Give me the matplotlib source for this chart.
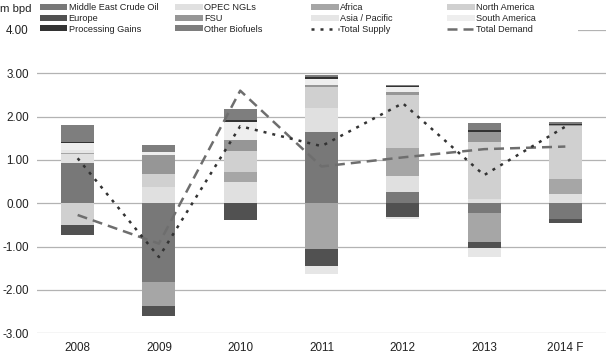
"""Annual change in world oil supply by region vs. total demand"""

import numpy as np
import matplotlib
matplotlib.use('Agg')
import matplotlib.pyplot as plt
from matplotlib.patches import Patch, Rectangle
from matplotlib.lines import Line2D

plt.rcParams['font.family'] = ['Liberation Sans', 'DejaVu Sans']

years = ['2008', '2009', '2010', '2011', '2012', '2013', '2014 F']
ytick_values = [-3, -2, -1, 0, 1, 2, 3, 4]
ytick_labels = ['-3.00', '-2.00', '-1.00', '0.00', '1.00', '2.00', '3.00', '4.00']

# year-on-year change, m bpd
me_crude = [0.92, -1.82, 0.00, 1.65, 0.27, -0.23, -0.36]
opec_ngls = [0.21, 0.38, 0.49, 0.54, 0.36, 0.11, 0.21]
africa = [0.02, -0.54, 0.23, -1.06, 0.64, -0.66, 0.34]
north_america = [-0.50, 0.29, 0.49, 0.50, 1.24, 1.31, 1.23]
europe = [-0.23, -0.25, -0.38, -0.39, -0.31, -0.15, -0.10]
fsu = [0.00, 0.44, 0.25, 0.04, 0.05, 0.23, 0.03]
asia_pacific = [0.09, 0.00, 0.00, -0.17, -0.06, -0.19, 0.00]
south_america = [0.15, 0.07, 0.41, 0.15, 0.12, 0.00, 0.00]
processing_gains = [0.03, 0.00, 0.05, 0.04, 0.02, 0.05, 0.03]
other_biofuels = [0.38, 0.16, 0.25, 0.04, 0.03, 0.15, 0.04]

total_supply = [1.04, -1.24, 1.78, 1.32, 2.31, 0.65, 1.77]
total_demand = [-0.27, -0.93, 2.60, 0.85, 1.06, 1.25, 1.31]

series = [
    ('Middle East Crude Oil', me_crude),
    ('OPEC NGLs', opec_ngls),
    ('Africa', africa),
    ('North America', north_america),
    ('Europe', europe),
    ('FSU', fsu),
    ('Asia / Pacific', asia_pacific),
    ('South America', south_america),
    ('Processing Gains', processing_gains),
    ('Other Biofuels', other_biofuels),
]
colors = {
    'Middle East Crude Oil': '#787878',
    'OPEC NGLs': '#e0e0e0',
    'Africa': '#a6a6a6',
    'North America': '#d0d0d0',
    'Europe': '#515151',
    'FSU': '#969696',
    'Asia / Pacific': '#e6e6e6',
    'South America': '#eeeeee',
    'Processing Gains': '#333333',
    'Other Biofuels': '#7e7e7e',
}

W, H = 606, 359
fig = plt.figure(figsize=(W / 100, H / 100), dpi=100)
ax = fig.add_axes([37 / W, 25.7 / H, 569 / W, 303.3 / H])

x = np.arange(len(years))
pos = np.zeros(len(years))
neg = np.zeros(len(years))
handles = []
for name, vals in series:
    v = np.array(vals, dtype=float)
    bottom = np.where(v >= 0, pos, neg)
    ax.bar(x, v, bottom=bottom, width=0.405, color=colors[name], linewidth=0, zorder=2)
    pos += np.clip(v, 0, None)
    neg += np.clip(v, None, 0)
    handles.append(Patch(facecolor=colors[name], label=name))

supply_ls = (0, (1.2, 2.4))
demand_ls = (0, (4, 2.4))
ax.plot(x, total_supply, color='#333333', lw=1.8, ls=supply_ls, zorder=4)
ax.plot(x, total_demand, color='#6e6e6e', lw=1.8, ls=demand_ls, zorder=3)
handles.append(Line2D([], [], color='#333333', lw=1.8, ls=supply_ls, label='Total Supply'))
handles.append(Line2D([], [], color='#6e6e6e', lw=1.8, ls=demand_ls, label='Total Demand'))

ax.set_xlim(-0.5, 6.5)
ax.set_ylim(-3, 4)
ax.set_yticks(ytick_values)
ax.set_yticklabels(ytick_labels)
ax.set_xticks(x)
ax.set_xticklabels(years)
ax.tick_params(axis='both', length=0, labelsize=8.4, labelcolor='#222222')
ax.tick_params(axis='y', pad=6)
ax.tick_params(axis='x', pad=6)
ax.grid(axis='y', color='#b3b3b3', lw=0.9)
ax.set_axisbelow(True)
for s in ax.spines.values():
    s.set_visible(False)

# white band behind the legend hides the top gridline
fig.patches.append(Rectangle((30 / W, 1 - 38 / H), 548 / W, 38 / H,
                             transform=fig.transFigure, facecolor='white',
                             edgecolor='none', zorder=1))

# legend: 4 columns, filled row by row
col_x = [39.8, 175, 311.4, 447]
for k, cx in enumerate(col_x):
    leg = fig.legend(handles=handles[k::4], loc='center left',
                     bbox_to_anchor=(cx / W, 1 - 18.5 / H), frameon=False,
                     fontsize=6.6, borderpad=0, borderaxespad=0,
                     handlelength=3.0, handleheight=0.62, handletextpad=0.15,
                     labelspacing=0.18)
    for t in leg.get_texts():
        t.set_color('#222222')

fig.text(0 / W, 1 - 9 / H, 'm bpd', ha='left', va='center', fontsize=8.2, color='#222222')

fig.savefig('out.png', dpi=100)
